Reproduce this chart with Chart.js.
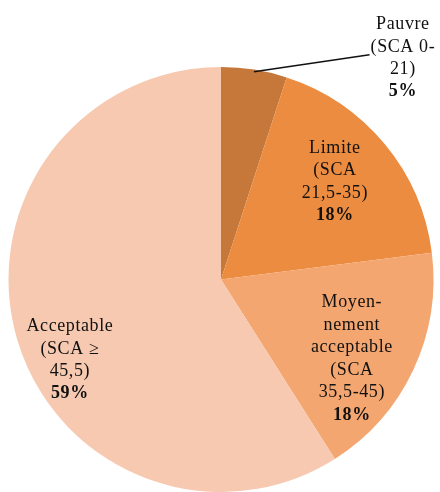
<!DOCTYPE html>
<html>
<head>
<meta charset="utf-8">
<script src="https://cdn.jsdelivr.net/npm/chart.js@4.4.1/dist/chart.umd.min.js"></script>
<style>
  html, body { margin: 0; padding: 0; background: #fff; }
  #wrap { width: 440px; height: 492px; }
</style>
</head>
<body>
<div id="wrap"><canvas id="canvas" width="440" height="492"></canvas></div>
<script>
// DATA
const categories = ['Pauvre', 'Limite', 'Moyennement acceptable', 'Acceptable'];
const labelLines = [
  ['Pauvre', '(SCA 0-', '21)'],
  ['Limite', '(SCA', '21,5-35)'],
  ['Moyen-', 'nement', 'acceptable', '(SCA', '35,5-45)'],
  ['Acceptable', '(SCA \u2265', '45,5)']
];
const percents = [5, 18, 18, 59];
const colors = ['#c6773a', '#ec8c40', '#f4a670', '#f7c9b0'];

// where each label block sits, in units of the pie radius from its centre
const labelSpots = [
  { x: 0.856, y: -1.042, leader: true },
  { x: 0.536, y: -0.459 },
  { x: 0.616, y: 0.374 },
  { x: -0.711, y: 0.379 }
];

const FONT = '"Liberation Serif", "DejaVu Serif", serif';

// DRAW LABELS ON / NEXT TO THE SLICES
const sliceLabels = {
  id: 'sliceLabels',
  afterDatasetsDraw(chart) {
    const ctx = chart.ctx;
    const meta = chart.getDatasetMeta(0);
    const lineH = 22.5;
    ctx.save();
    ctx.textAlign = 'center';
    ctx.textBaseline = 'middle';
    ctx.fillStyle = '#111';
    ctx.letterSpacing = '0.6px';
    meta.data.forEach((arc, i) => {
      const r = arc.outerRadius;
      const cx = arc.x + labelSpots[i].x * r;
      const cy = arc.y + labelSpots[i].y * r;
      const lines = labelLines[i].concat([percents[i] + '%']);
      const top = cy - (lines.length - 1) * lineH / 2;
      lines.forEach((t, k) => {
        const last = k === lines.length - 1;
        ctx.font = (last ? 'bold ' : '') + '18px ' + FONT;
        ctx.fillText(t, cx, top + k * lineH);
      });
      if (labelSpots[i].leader) {
        const mid = (arc.startAngle + arc.endAngle) / 2;
        const sx = arc.x + Math.cos(mid) * r * 0.99;
        const sy = arc.y + Math.sin(mid) * r * 0.99;
        ctx.font = '18px ' + FONT;
        const w = ctx.measureText(lines[1]).width;
        ctx.beginPath();
        ctx.moveTo(sx, sy);
        ctx.lineTo(cx - w / 2 - 1, top + lineH + 8);
        ctx.strokeStyle = '#111';
        ctx.lineWidth = 1.5;
        ctx.stroke();
      }
    });
    ctx.restore();
  }
};

// SHOW PIE
const myChart = new Chart(document.getElementById('canvas').getContext('2d'), {
  type: 'pie',
  data: {
    labels: categories,
    datasets: [{
      data: percents,
      backgroundColor: colors,
      borderWidth: 0
    }]
  },
  options: {
    responsive: false,
    animation: false,
    layout: { padding: { left: 8, right: 6, top: 67, bottom: 0 } },
    plugins: {
      legend: { display: false },
      tooltip: { enabled: false }
    }
  },
  plugins: [sliceLabels]
});
</script>
</body>
</html>
